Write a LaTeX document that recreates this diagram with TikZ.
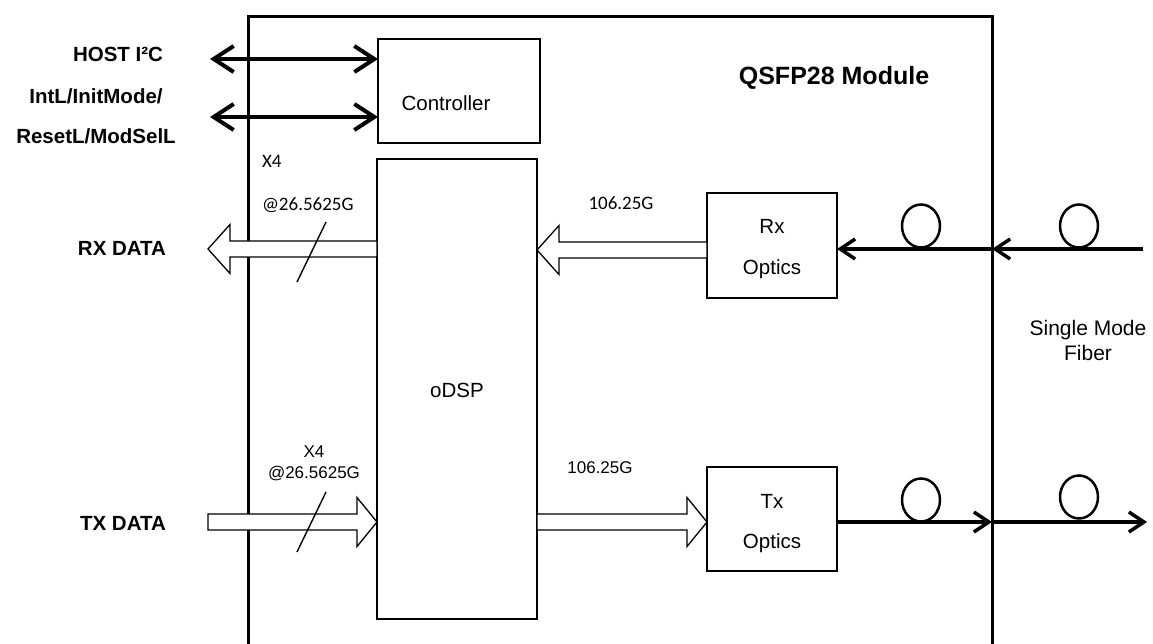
\documentclass[tikz,border=0pt]{standalone}
\usepackage{fontspec}
\setmainfont{Liberation Sans}
\newfontfamily\calfont{Carlito}
\usetikzlibrary{arrows.meta,calc}
\newcommand\fatarrow[3]{%
  \draw[fat] ($(#1)+(0,8)$) -- ($(#2)+(#3,8)$) -- ($(#2)+(#3,24.5)$) -- (#2)
    -- ($(#2)+(#3,-24.5)$) -- ($(#2)+(#3,-8)$) -- ($(#1)+(0,-8)$) -- cycle;}
\begin{document}
\begin{tikzpicture}[x=1pt,y=-1pt,
  every node/.style={inner sep=0pt, outer sep=0pt},
  blk/.style={draw, line width=1.6pt, anchor=north west},
  lbl/.style={anchor=base, font=\fontsize{20.5}{24}\selectfont},
  blbl/.style={anchor=base, font=\fontsize{20.5}{24}\selectfont\bfseries},
  cal/.style={anchor=base west, font=\fontsize{19}{22}\selectfont\calfont},
  small/.style={anchor=base, font=\fontsize{17}{20}\selectfont},
  fat/.style={draw, fill=white, line width=1.3pt, line join=miter},
  bus/.style={line width=4pt, {Straight Barb[length=20pt,width=26pt]}-{Straight Barb[length=20pt,width=26pt]}},
  fiber/.style={line width=3.5pt, -{Straight Barb[length=15pt,width=20pt]}},
  loopst/.style={draw, line width=2.5pt},
  slash/.style={line width=1.4pt}
]
\useasboundingbox (0,0) rectangle (1153,644);
% module outline
\coordinate (mbl) at (248,644);
\coordinate (mtl) at (248,17);
\coordinate (mtr) at (992,17);
\coordinate (mbr) at (992,644);
\draw[line width=3pt, line join=miter] (mbl) -- (mtl) -- (mtr) -- (mbr);
\node[anchor=base, font=\fontsize{25}{30}\selectfont\bfseries] (title) at (834,85) {QSFP28 Module};

% blocks
\node[blk, minimum width=162pt, minimum height=104pt] (ctrl) at (378,39) {};
\node[lbl] (ctrltxt) at (446,111) {Controller};
\node[blk, minimum width=160pt, minimum height=460pt] (odsp) at (377,159) {};
\node[lbl] (odsptxt) at (457,397) {oDSP};
\node[blk, minimum width=130pt, minimum height=105pt] (rxo) at (707,193) {};
\node[lbl] (rxt1) at (772,234) {Rx};
\node[lbl] (rxt2) at (772,275) {Optics};
\node[blk, minimum width=130pt, minimum height=104pt] (txo) at (707,467) {};
\node[lbl] (txt1) at (772,508) {Tx};
\node[lbl] (txt2) at (772,548) {Optics};

% host control signals
\node[blbl] (host) at (118,62) {HOST I²C};
\node[blbl] (intl) at (96,104) {IntL/InitMode/};
\node[blbl] (reset) at (96,144) {ResetL/ModSelL};
\coordinate (h1) at (210,59);
\coordinate (h2) at (210,117);
\draw[bus] (h1) -- (h1 -| ctrl.west);
\draw[bus] (h2) -- (h2 -| ctrl.west);

% RX data path
\node[blbl] (rxdata) at (122,256) {RX DATA};
\coordinate (rxtip) at (208,249);
\fatarrow{odsp.west |- rxtip}{rxtip}{22}
\node[cal] (x4a) at (262,168) {X4};
\node[cal] (ratea) at (262,211) {@26.5625G};
\coordinate (sa1) at (326,222);
\coordinate (sa2) at (297,282);
\draw[slash] (sa1) -- (sa2);
\coordinate (rxmid) at (537,250);
\fatarrow{rxo.west |- rxmid}{odsp.east |- rxmid}{22}
\node[cal, anchor=base] (rra) at (621,210) {106.25G};

% TX data path
\node[blbl] (txdata) at (123,530) {TX DATA};
\coordinate (txtail) at (208,522);
\fatarrow{txtail}{odsp.west |- txtail}{-20}
\node[small] (x4b) at (314,457) {X4};
\node[small] (rateb) at (314,478) {@26.5625G};
\coordinate (sb1) at (326,492);
\coordinate (sb2) at (297,552);
\draw[slash] (sb1) -- (sb2);
\fatarrow{odsp.east |- txtail}{txo.west |- txtail}{-20}
\node[small] (rrb) at (600,473) {106.25G};

% fibers
\coordinate (rxin) at (1143,249);
\coordinate (rxport) at (992,249);
\draw[fiber] (rxin) -- (rxport);
\draw[fiber] (rxport) -- (rxport -| rxo.east);
\coordinate (txport) at (992,522);
\coordinate (txout) at (1147,522);
\draw[fiber] (txo.east |- txport) -- (txport);
\draw[fiber] (txport) -- (txout);
\draw[loopst] (921,226) ellipse [x radius=19, y radius=21.5];
\draw[loopst] (1079,226) ellipse [x radius=19, y radius=21.5];
\draw[loopst] (921,500) ellipse [x radius=19, y radius=21.5];
\draw[loopst] (1079,497) ellipse [x radius=19, y radius=21.5];
\node[lbl, font=\fontsize{21}{24}\selectfont] (smf1) at (1088,335) {Single Mode};
\node[lbl, font=\fontsize{21}{24}\selectfont] (smf2) at (1088,360) {Fiber};
\end{tikzpicture}
\end{document}
